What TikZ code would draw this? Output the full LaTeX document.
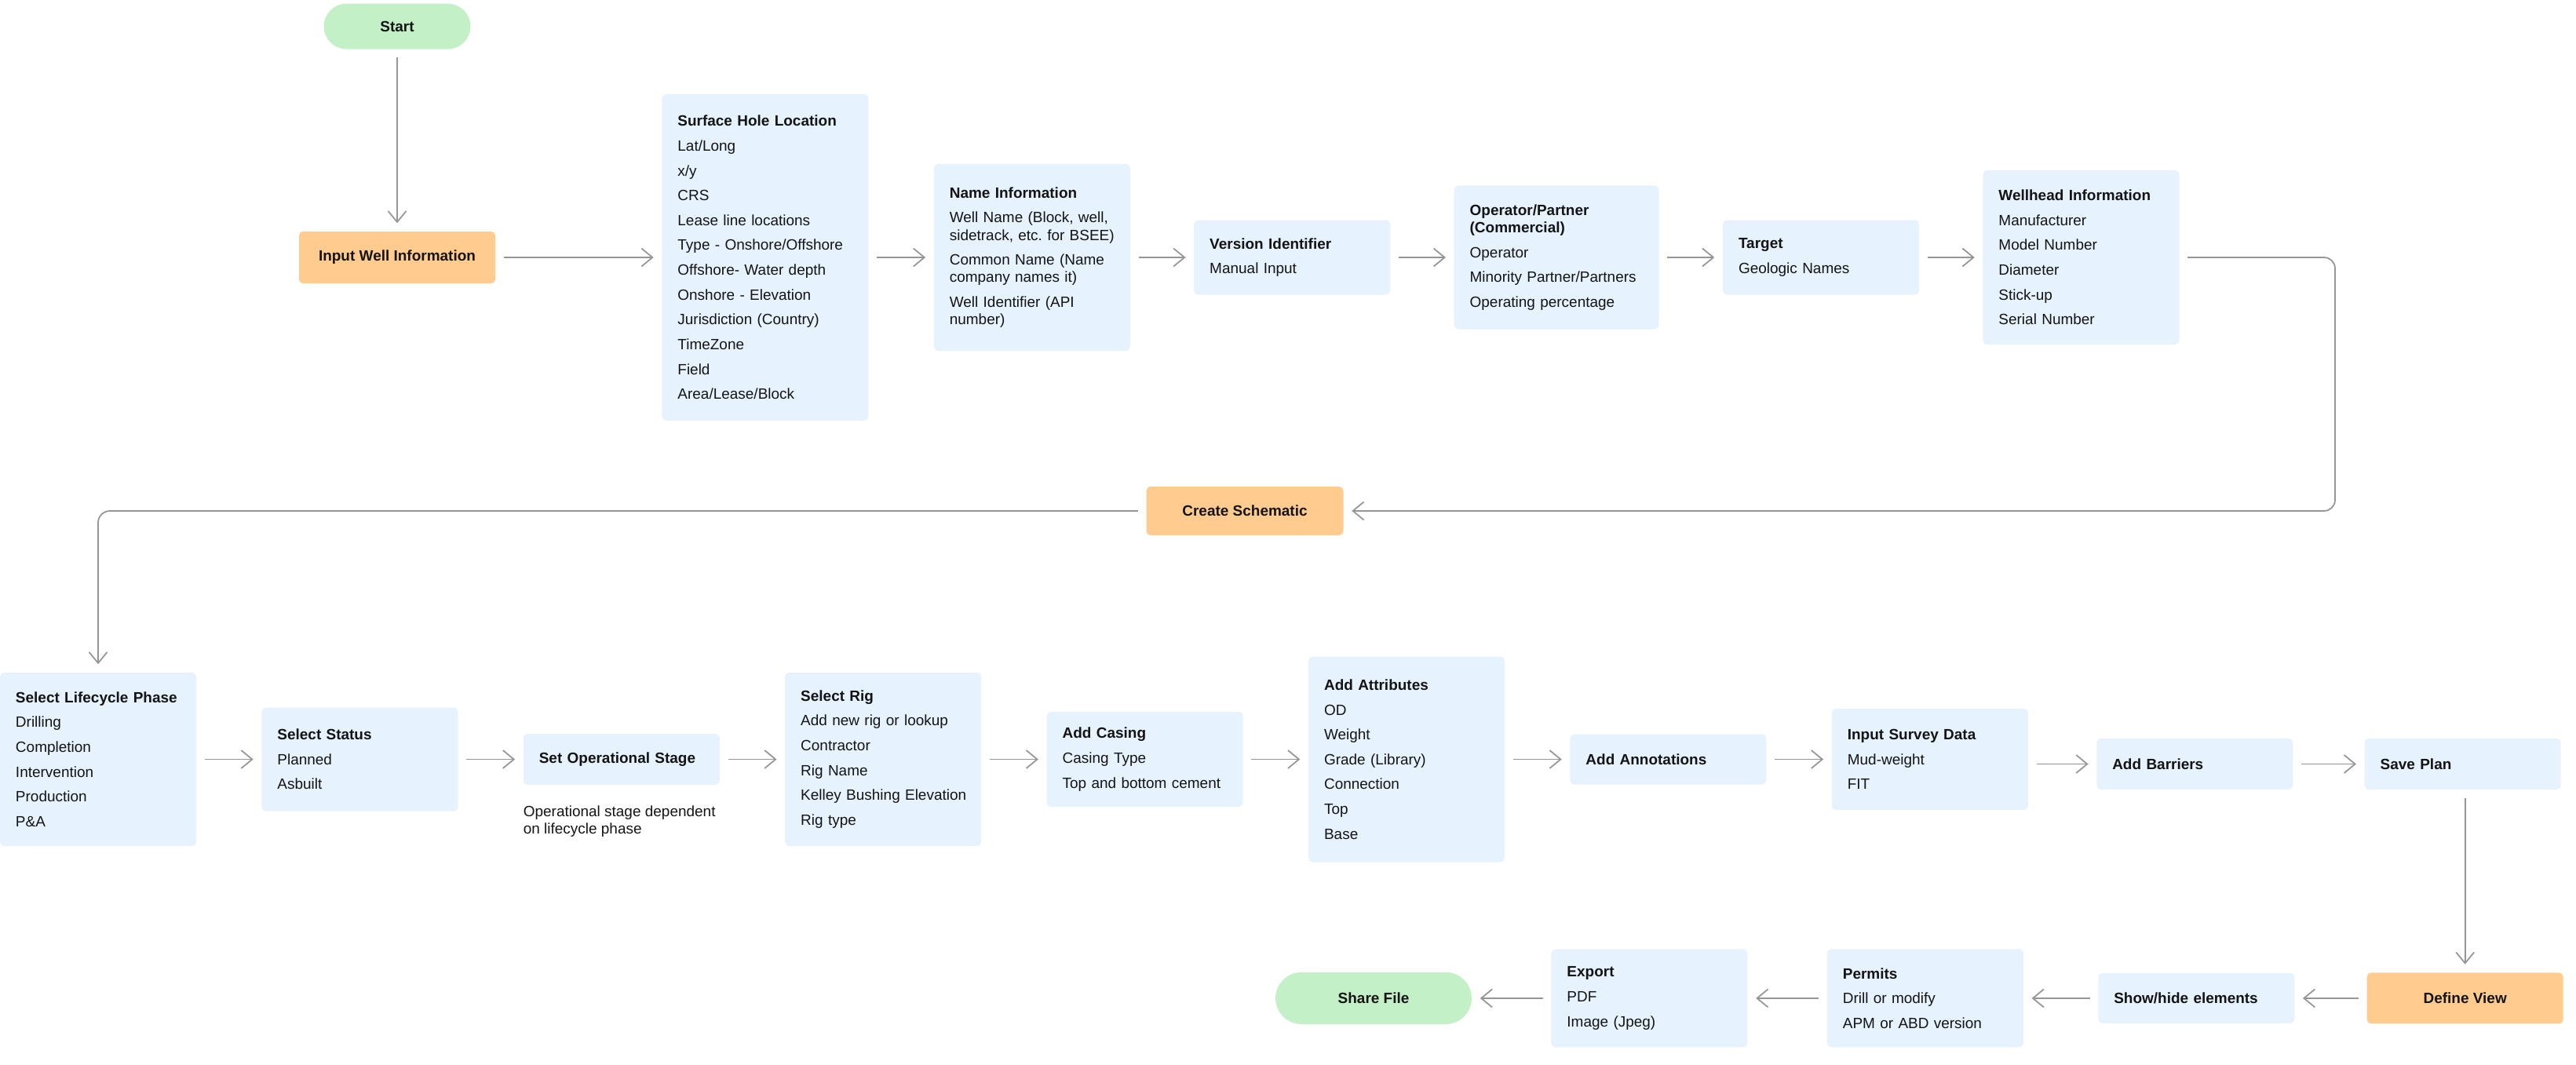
\documentclass[tikz,border=0pt]{standalone}
\usepackage{fontspec}
\setmainfont{Liberation Sans}
\usepackage{tikz}
\usetikzlibrary{arrows.meta,positioning,calc}
\definecolor{nodeblue}{RGB}{230,242,254}
\definecolor{nodeorange}{RGB}{255,203,142}
\definecolor{nodegreen}{RGB}{196,240,200}
\definecolor{linegray}{RGB}{150,150,150}
\definecolor{inkblack}{RGB}{20,20,20}
\newcommand{\fs}{\fontsize{5.4}{6.3}\selectfont}
\newcommand{\gap}{\\[2.7pt]}
\tikzset{
  box/.style  ={rectangle, rounded corners=1.5pt, fill=nodeblue, text width=2.1cm,
                inner xsep=0.2cm, align=left, minimum height=0.65cm, font=\fs, text=inkblack},
  obox/.style ={rectangle, rounded corners=1.5pt, fill=nodeorange, minimum width=2.5cm,
                minimum height=0.65cm, align=center, font=\fs\bfseries, text=inkblack},
  pill/.style ={rectangle, rounded corners=0.29cm, fill=nodegreen, minimum width=2.5cm,
                minimum height=0.58cm, align=center, font=\fs\bfseries, text=inkblack},
  flow/.style ={-{Straight Barb[length=1.4mm,width=2.3mm]}, line width=0.5pt, draw=linegray,
                shorten >=1mm, shorten <=1mm},
  note/.style ={font=\fs, align=left, inner sep=0pt, text=inkblack}
}
\begin{document}
\begin{tikzpicture}[font=\fs, node distance=0.8cm]
\useasboundingbox (0,0) rectangle (32.82,-13.57);
% row 1
\node[obox, minimum height=0.66cm] (a1) at (5.06,-3.28) {Input Well Information};
\node[pill, minimum width=1.87cm, above=2.31cm of a1] (a0) {Start};
\node[box, text width=2.23cm, minimum height=4.16cm, right=2.11cm of a1] (a2)
  {\textbf{Surface Hole Location}\gap Lat/Long\gap x/y\gap CRS\gap Lease line locations\gap
   Type - Onshore/Offshore\gap Offshore- Water depth\gap Onshore - Elevation\gap
   Jurisdiction (Country)\gap TimeZone\gap Field\gap Area/Lease/Block};
\node[box, minimum height=2.38cm, right=0.82cm of a2] (a3)
  {\textbf{Name Information}\gap Well Name (Block, well,\\ \mbox{sidetrack, etc.\ for BSEE)}\gap
   Common Name (Name\\ company names it)\gap Well Identifier (API\\ number)\\[6pt]};
\node[box, minimum height=0.95cm, right=of a3] (a4) {\textbf{Version Identifier}\gap Manual Input};
\node[box, text width=2.21cm, minimum height=1.83cm, right=of a4] (a5)
  {\textbf{Operator/Partner}\\ \textbf{(Commercial)}\gap Operator\gap Minority Partner/Partners\gap
   Operating percentage};
\node[box, minimum height=0.95cm, right=of a5] (a6) {\textbf{Target}\gap Geologic Names};
\node[box, minimum height=2.22cm, right=of a6] (a7)
  {\textbf{Wellhead Information}\gap Manufacturer\gap Model Number\gap Diameter\gap Stick-up\gap
   Serial Number};
\draw[flow] (a0) -- (a1);
\draw[flow] (a1) -- (a2);
\draw[flow] (a2) -- (a3);
\draw[flow] (a3) -- (a4);
\draw[flow] (a4) -- (a5);
\draw[flow] (a5) -- (a6);
\draw[flow] (a6) -- (a7);

% schematic
\node[obox, minimum height=0.62cm, minimum width=2.51cm] (s1) at (15.86,-6.51) {Create Schematic};
\coordinate (k1) at (29.75,-6.51);
\draw[flow, rounded corners=0.14cm] (a7.east) -| (k1) -- (s1.east);

% row 2
\node[box, minimum height=2.21cm] (b1) at (1.25,-9.675)
  {\textbf{Select Lifecycle Phase}\gap Drilling\gap Completion\gap Intervention\gap Production\gap P\&A};
\node[box, minimum height=1.32cm, right=0.82cm of b1] (b2) {\textbf{Select Status}\gap Planned\gap Asbuilt};
\node[box, minimum height=0.65cm, right=0.82cm of b2] (b3) {\textbf{Set Operational Stage}};
\node[note, anchor=north west] (n1) at ([yshift=-0.25cm]b3.south west)
  {Operational stage dependent\\ on lifecycle phase};
\node[box, minimum height=2.21cm, right=0.82cm of b3] (b4)
  {\textbf{Select Rig}\gap Add new rig or lookup\gap Contractor\gap Rig Name\gap
   \mbox{Kelley Bushing Elevation}\gap Rig type};
\node[box, minimum height=1.21cm, right=0.82cm of b4] (b5)
  {\textbf{Add Casing}\gap Casing Type\gap Top and bottom cement};
\node[box, minimum height=2.62cm, right=0.82cm of b5] (b6)
  {\textbf{Add Attributes}\gap OD\gap Weight\gap Grade (Library)\gap Connection\gap Top\gap Base};
\node[box, minimum height=0.64cm, right=0.82cm of b6] (b7) {\textbf{Add Annotations}};
\node[box, minimum height=1.29cm, right=0.82cm of b7] (b8) {\textbf{Input Survey Data}\gap Mud-weight\gap FIT};
\node[box, minimum height=0.65cm, right=0.86cm of b8, yshift=-0.06cm] (b9) {\textbf{Add Barriers}};
\node[box, minimum height=0.65cm, right=0.9cm of b9] (b10) {\textbf{Save Plan}};
\draw[flow, rounded corners=0.15cm] (s1.west) -| (b1.north);
\draw[flow] (b1) -- (b2);
\draw[flow] (b2) -- (b3);
\draw[flow] (b3) -- (b4);
\draw[flow] (b4) -- (b5);
\draw[flow] (b5) -- (b6);
\draw[flow] (b6) -- (b7);
\draw[flow] (b7) -- (b8);
\draw[flow] (b8.east |- b9) -- (b9);
\draw[flow] (b9) -- (b10);

% row 3
\node[obox, minimum height=0.65cm, below=2.32cm of b10, xshift=0.03cm] (c1) {Define View};
\node[box, minimum height=0.64cm, left=0.91cm of c1] (c2) {\textbf{Show/hide elements}};
\node[box, minimum height=1.25cm, left=0.94cm of c2] (c3) {\textbf{Permits}\gap Drill or modify\gap APM or ABD version};
\node[box, minimum height=1.25cm, left=1.0cm of c3] (c4) {\textbf{Export}\gap PDF\gap Image (Jpeg)};
\node[pill, rounded corners=0.33cm, minimum height=0.66cm, left=1.0cm of c4] (c5) {Share File};
\draw[flow] (b10.south -| c1) -- (c1);
\draw[flow] (c1) -- (c2);
\draw[flow] (c2) -- (c3);
\draw[flow] (c3) -- (c4);
\draw[flow] (c4) -- (c5);
\end{tikzpicture}
\end{document}
